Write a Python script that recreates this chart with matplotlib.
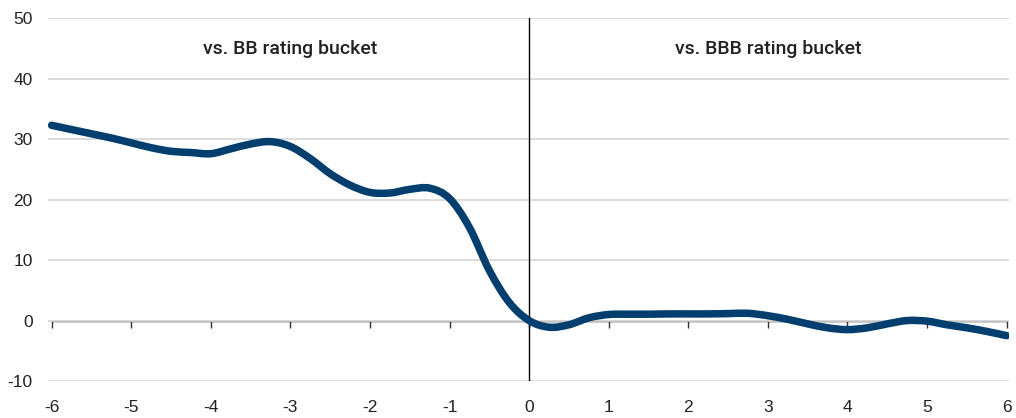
import matplotlib
matplotlib.use("Agg")
import matplotlib.pyplot as plt
from matplotlib.path import Path
from matplotlib.patches import PathPatch

plt.rcParams["axes.unicode_minus"] = False

# ---- data ----
x_vals = [-6, -5.75, -5.5, -5.25, -5, -4.75, -4.5, -4.25, -4, -3.75, -3.5, -3.25,
          -3, -2.75, -2.5, -2.25, -2, -1.75, -1.5, -1.25, -1, -0.75, -0.5, -0.25,
          0, 0.25, 0.5, 0.75, 1, 1.25, 1.5, 1.75, 2, 2.25, 2.5, 2.75,
          3, 3.25, 3.5, 3.75, 4, 4.25, 4.5, 4.75, 5, 5.25, 5.5, 5.75, 6]
y_vals = [32.3, 31.6, 30.9, 30.2, 29.4, 28.6, 28.0, 27.8, 27.6, 28.4, 29.2, 29.6,
          28.8, 26.8, 24.3, 22.4, 21.2, 21.1, 21.7, 21.9, 20.2, 15.4, 8.3, 3.0,
          0.0, -1.1, -0.7, 0.45, 1.0, 1.05, 1.05, 1.1, 1.1, 1.1, 1.15, 1.2,
          0.8, 0.2, -0.55, -1.2, -1.5, -1.2, -0.55, 0.0, -0.1, -0.7, -1.2, -1.8, -2.5]
x_ticks = [-6, -5, -4, -3, -2, -1, 0, 1, 2, 3, 4, 5, 6]
y_ticks = [-10, 0, 10, 20, 30, 40, 50]
labels = ["vs. BB rating bucket", "vs. BBB rating bucket"]
label_x = [-3, 3]
label_y = [45, 45]

line_color = "#023e6e"
tick_font = ["Liberation Sans", "DejaVu Sans"]
label_font = ["Roboto", "DejaVu Sans"]

fig = plt.figure(figsize=(10.16, 4.18), dpi=100)
ax = fig.add_axes([48/1016, 1-381/418, (1009-48)/1016, (381-18.3)/418])

ax.set_xlim(-6.045, 6.03)
ax.set_ylim(-10, 50)
ax.set_yticks(y_ticks)
ax.set_xticks(x_ticks)
ax.yaxis.grid(True, color="#d9d9d9", lw=1.3)
ax.set_axisbelow(True)
for s in ["left", "right", "top", "bottom"]:
    ax.spines[s].set_visible(False)
ax.tick_params(axis="both", length=0, labelsize=12.5, labelcolor="#222222")
ax.tick_params(axis="x", pad=14)
ax.tick_params(axis="y", pad=11)
for lab in ax.get_xticklabels() + ax.get_yticklabels():
    lab.set_family(tick_font)

# x-axis line at y=0 with ticks
sec = ax.secondary_xaxis(10/60)
sec.set_xticks(x_ticks)
sec.set_xticklabels([])
sec.spines["bottom"].set_bounds(-6, 6)
sec.spines["bottom"].set_color("black")
sec.spines["bottom"].set_linewidth(1.0)
sec.tick_params(axis="x", direction="out", length=5, width=1.0, color="#333333")

ax.axvline(0, color="black", lw=1.0, zorder=2)

# smoothed line (Catmull-Rom style Bezier through the data points, like Excel smoothing)
n = len(x_vals)
verts = [(x_vals[0], y_vals[0])]
codes = [Path.MOVETO]
for i in range(n - 1):
    p0 = (x_vals[max(i - 1, 0)], y_vals[max(i - 1, 0)])
    p1 = (x_vals[i], y_vals[i])
    p2 = (x_vals[i + 1], y_vals[i + 1])
    p3 = (x_vals[min(i + 2, n - 1)], y_vals[min(i + 2, n - 1)])
    c1 = (p1[0] + (p2[0] - p0[0]) / 6, p1[1] + (p2[1] - p0[1]) / 6)
    c2 = (p2[0] - (p3[0] - p1[0]) / 6, p2[1] - (p3[1] - p1[1]) / 6)
    verts += [c1, c2, p2]
    codes += [Path.CURVE4] * 3
patch = PathPatch(Path(verts, codes), facecolor="none", edgecolor=line_color,
                  lw=5.4, capstyle="round", joinstyle="round", zorder=3)
ax.add_patch(patch)

for t, lx, ly in zip(labels, label_x, label_y):
    ax.text(lx, ly, t, ha="center", va="center", fontsize=14, color="#222222",
            family=label_font, weight="medium")

fig.savefig("out.png", dpi=100)
